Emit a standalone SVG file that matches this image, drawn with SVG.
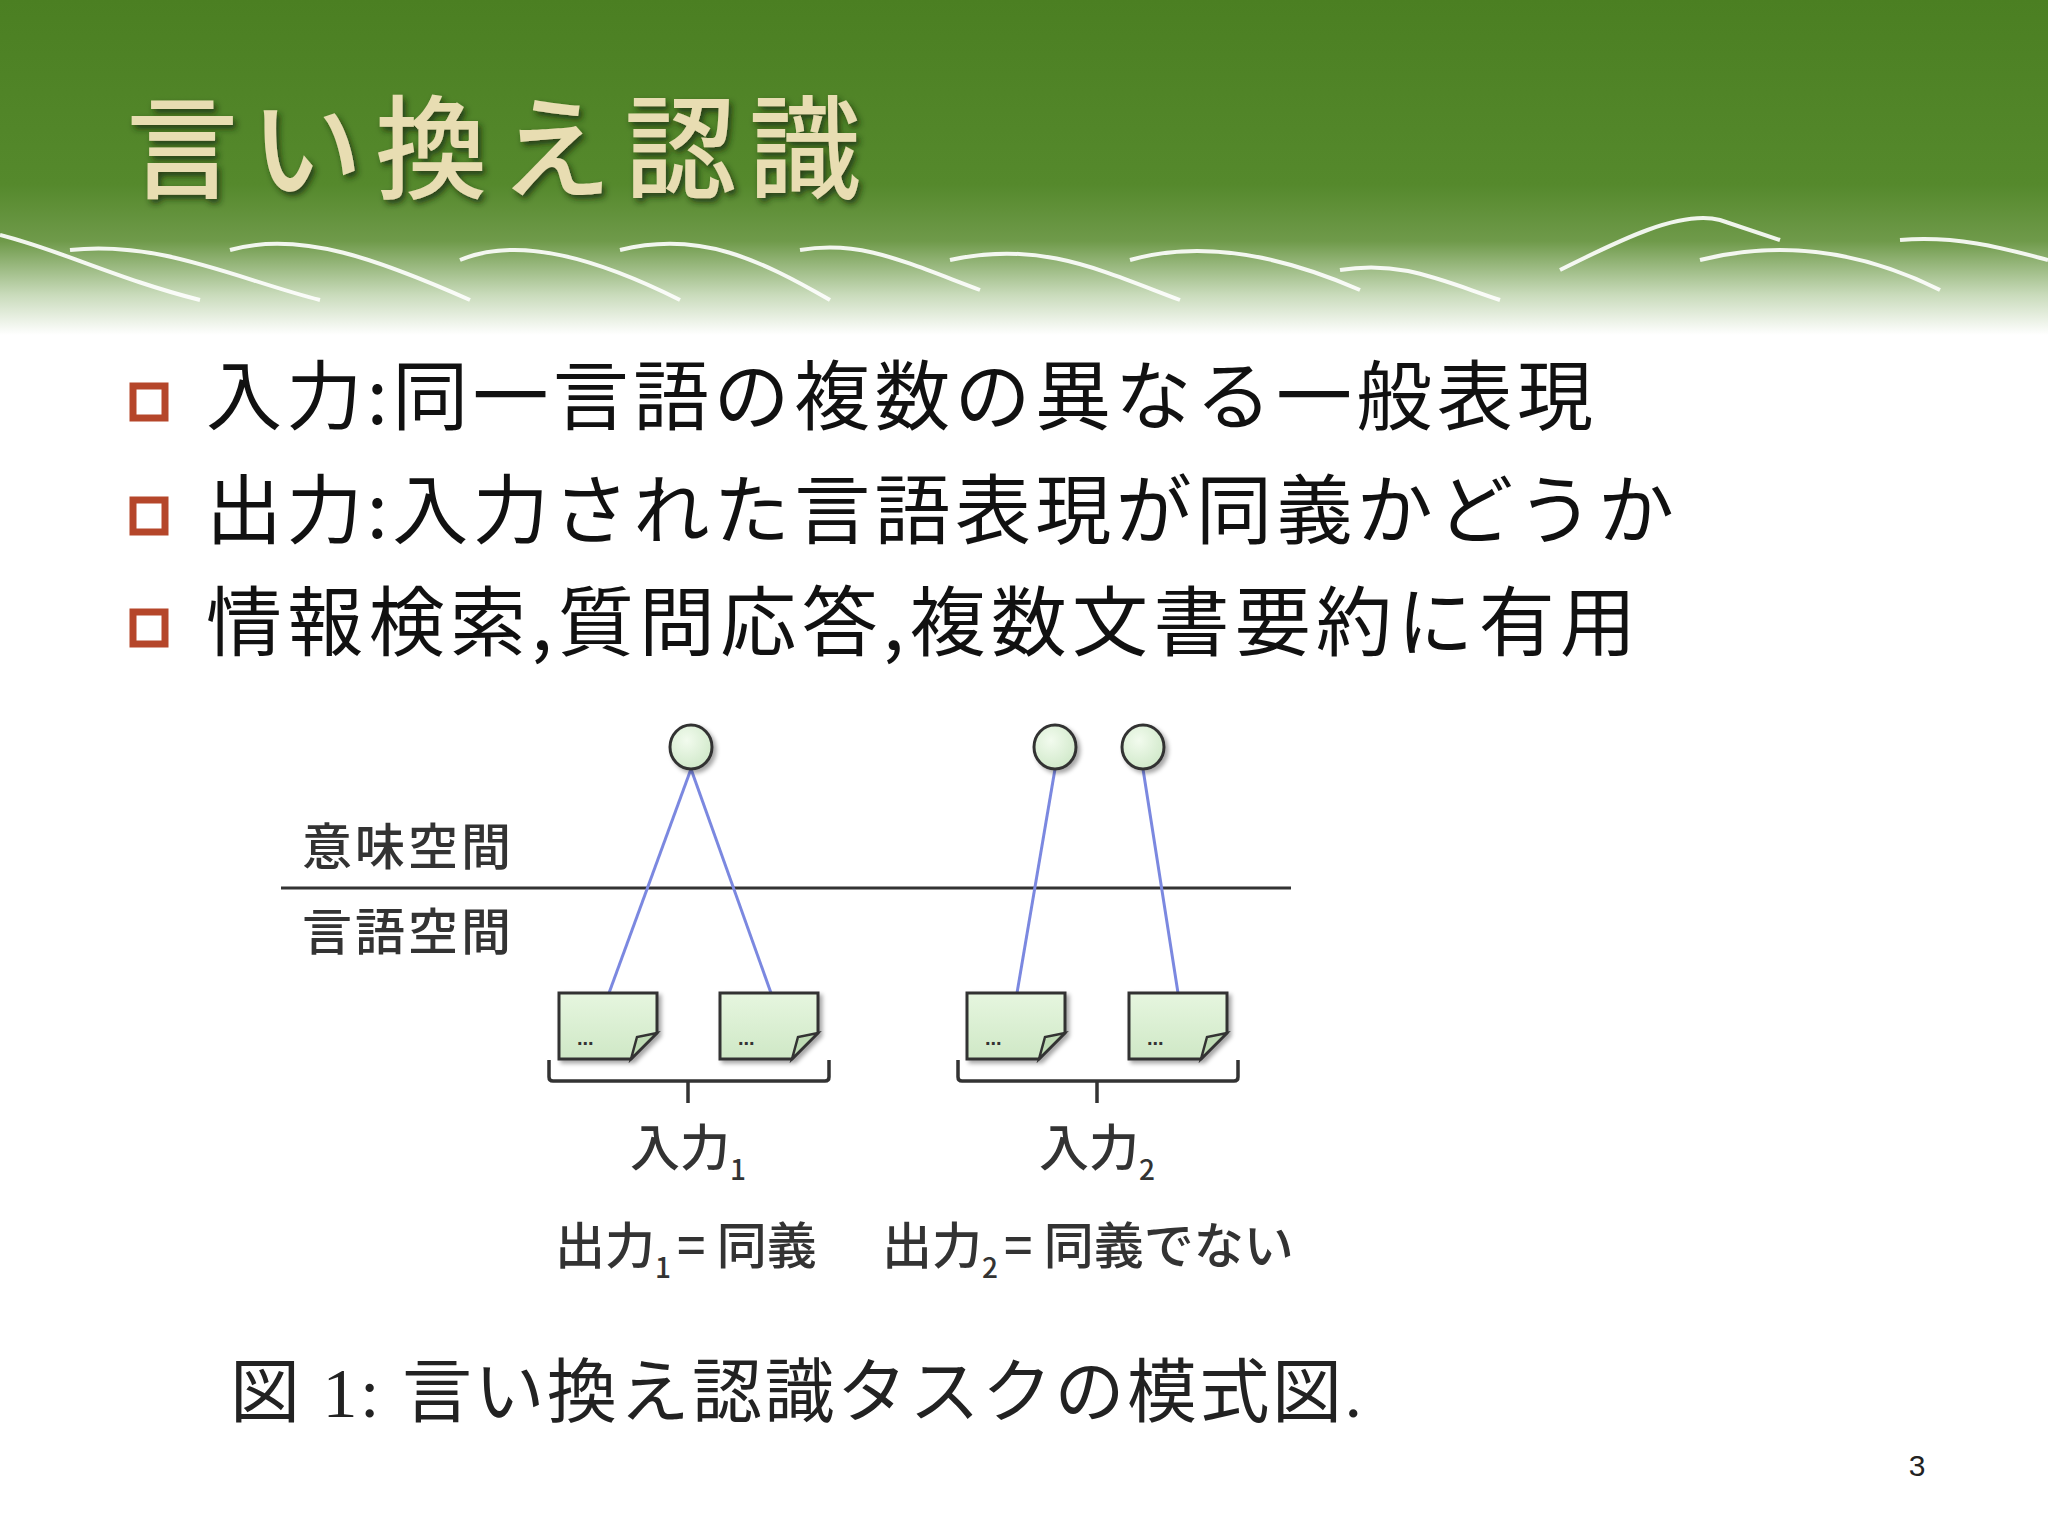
<svg xmlns="http://www.w3.org/2000/svg" width="2048" height="1536" viewBox="0 0 2048 1536">
<defs>
<linearGradient id="bg" x1="0" y1="0" x2="0" y2="1">
<stop offset="0" stop-color="#4b7f22"/>
<stop offset="0.55" stop-color="#55892c"/>
<stop offset="0.72" stop-color="#6f9a4a"/>
<stop offset="0.88" stop-color="#c9dbbb"/>
<stop offset="1" stop-color="#ffffff"/>
</linearGradient>
<linearGradient id="doc" x1="0" y1="0" x2="0" y2="1">
<stop offset="0" stop-color="#e6f6df"/>
<stop offset="1" stop-color="#cfe8c6"/>
</linearGradient>
<radialGradient id="node" cx="0.4" cy="0.35" r="0.7">
<stop offset="0" stop-color="#f2fbee"/>
<stop offset="1" stop-color="#cfe8c8"/>
</radialGradient>
<filter id="sh" x="-10%" y="-10%" width="130%" height="130%">
<feDropShadow dx="3" dy="4" stdDeviation="3" flood-color="#1c2a10" flood-opacity="0.8"/>
</filter>
<filter id="dsh" x="-10%" y="-10%" width="130%" height="130%">
<feDropShadow dx="3" dy="3" stdDeviation="2" flood-color="#000" flood-opacity="0.35"/>
</filter>
<g id="docshape">
<path d="M0,0 H98 V40 L72,66 H0 Z" fill="url(#doc)" stroke="#333" stroke-width="3" filter="url(#dsh)"/>
<path d="M98,40 L78,44 L72,66 Z" fill="#bfdcb5" stroke="#333" stroke-width="2.5"/>
<text x="18" y="52" font-family="Liberation Sans, sans-serif" font-size="20" font-weight="bold" fill="#333">...</text>
</g>
</defs>
<style>
.jp{font-family:"Noto Sans CJK JP","Noto Sans",sans-serif}
.bul{font-size:76px;fill:#111}
.lbl{font-size:50px;fill:#333}
.box{fill:none;stroke:#b5462a;stroke-width:7}
.conn{stroke:#7b88e0;stroke-width:3;fill:none}
.brace{stroke:#333;stroke-width:3.5;fill:none}
</style>
<rect width="2048" height="1536" fill="#ffffff"/>
<rect width="2048" height="335" fill="url(#bg)"/>
<g stroke="#ffffff" stroke-width="4" fill="none" opacity="0.9">
<path d="M0,235 C60,250 120,280 200,300 M70,250 C160,240 240,280 320,300 M230,250 C300,230 380,260 470,300 M460,260 C520,235 600,260 680,300 M620,250 C700,230 760,260 830,300 M800,250 C860,240 900,260 980,290 M950,260 C1040,240 1100,270 1180,300 M1130,260 C1200,240 1280,255 1360,290 M1340,270 C1400,260 1440,280 1500,300 M1560,270 C1620,240 1680,210 1720,220 L1780,240 M1700,260 C1780,240 1860,250 1940,290 M1900,240 C1960,235 2010,250 2048,260"/>
</g>
<text x="126" y="190" class="jp" font-size="112" fill="#e8ddb2" filter="url(#sh)" font-weight="500" textLength="735" lengthAdjust="spacing">言い換え認識</text>
<g id="bullets" class="jp">
<rect x="133" y="386" width="32" height="32" class="box"/>
<text x="206" y="424" class="bul" textLength="1387" lengthAdjust="spacing">入力:同一言語の複数の異なる一般表現</text>
<rect x="133" y="500" width="32" height="32" class="box"/>
<text x="206" y="538" class="bul" textLength="1468" lengthAdjust="spacing">出力:入力された言語表現が同義かどうか</text>
<rect x="133" y="612" width="32" height="32" class="box"/>
<text x="206" y="650" class="bul" textLength="1430" lengthAdjust="spacing">情報検索,質問応答,複数文書要約に有用</text>
</g>
<g id="connectors">
<line x1="281" y1="888" x2="1291" y2="888" stroke="#333" stroke-width="3"/>
<line x1="691" y1="769" x2="609" y2="993" class="conn"/>
<line x1="691" y1="769" x2="771" y2="993" class="conn"/>
<line x1="1055" y1="769" x2="1017" y2="993" class="conn"/>
<line x1="1143" y1="769" x2="1178" y2="993" class="conn"/>
<path class="brace" d="M549,1060 V1077 Q549,1081 553,1081 H825 Q829,1081 829,1077 V1060 M688,1081 V1103"/>
<path class="brace" d="M958,1060 V1077 Q958,1081 962,1081 H1234 Q1238,1081 1238,1077 V1060 M1097,1081 V1103"/>
</g>
<g id="node1"><ellipse cx="691" cy="747" rx="21" ry="22" fill="url(#node)" stroke="#333" stroke-width="3" filter="url(#dsh)"/></g>
<g id="node2"><ellipse cx="1055" cy="747" rx="21" ry="22" fill="url(#node)" stroke="#333" stroke-width="3" filter="url(#dsh)"/></g>
<g id="node3"><ellipse cx="1143" cy="747" rx="21" ry="22" fill="url(#node)" stroke="#333" stroke-width="3" filter="url(#dsh)"/></g>
<g id="doc1"><use href="#docshape" x="559" y="993"/></g>
<g id="doc2"><use href="#docshape" x="720" y="993"/></g>
<g id="doc3"><use href="#docshape" x="967" y="993"/></g>
<g id="doc4"><use href="#docshape" x="1129" y="993"/></g>
<g id="labels" class="jp">
<text x="302" y="865" class="lbl" font-weight="500" textLength="209" lengthAdjust="spacing">意味空間</text>
<text x="302" y="950" class="lbl" font-weight="500" textLength="209" lengthAdjust="spacing">言語空間</text>
<text x="688" y="1166" class="lbl" text-anchor="middle" font-weight="500">入力<tspan font-size="28" dy="14">1</tspan></text>
<text x="1097" y="1166" class="lbl" text-anchor="middle" font-weight="500">入力<tspan font-size="28" dy="14">2</tspan></text>
<text x="555" y="1264" class="lbl" font-weight="500">出力<tspan font-size="28" dy="14">1</tspan><tspan dy="-14" dx="6">= 同義</tspan></text>
<text x="882" y="1264" class="lbl" font-weight="500">出力<tspan font-size="28" dy="14">2</tspan><tspan dy="-14" dx="6">= 同義でない</tspan></text>
</g>
<text x="230" y="1417" font-family="Liberation Serif, Noto Sans CJK JP, serif" font-size="70" fill="#222" textLength="1132" lengthAdjust="spacing">図 1: 言い換え認識タスクの模式図.</text>
<text x="1917" y="1476" font-family="Liberation Sans, sans-serif" font-size="30" fill="#222" text-anchor="middle">3</text>
</svg>
